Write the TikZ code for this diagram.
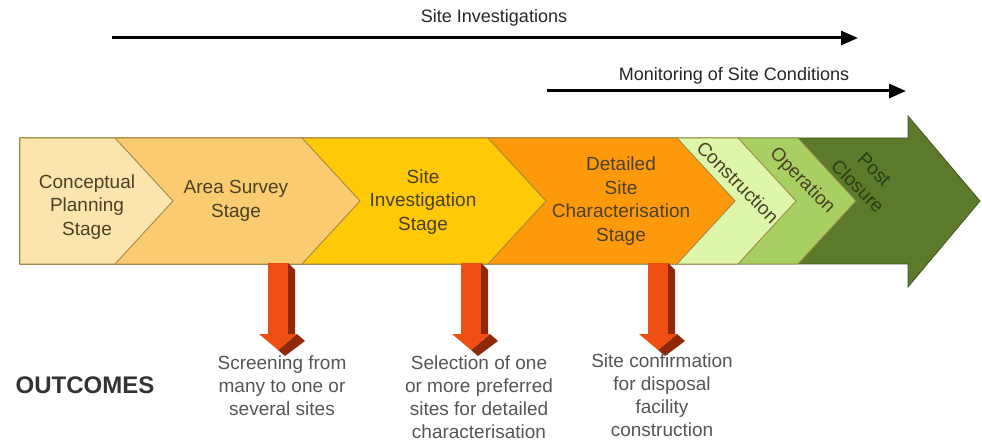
\documentclass[tikz,border=0pt]{standalone}
\usepackage{fontspec}
\setmainfont{Liberation Sans}
\usetikzlibrary{arrows.meta, positioning}

\definecolor{conceptfill}{HTML}{FBE5AC}
\definecolor{areafill}{HTML}{FBCB72}
\definecolor{invfill}{HTML}{FFC908}
\definecolor{detailfill}{HTML}{FF990C}
\definecolor{consfill}{HTML}{DDF6AA}
\definecolor{opfill}{HTML}{A8CF62}
\definecolor{postfill}{HTML}{5B7A2C}
\definecolor{chevline}{HTML}{9A8443}
\definecolor{stagetxt}{HTML}{4A4126}
\definecolor{posttxt}{HTML}{2E3C14}
\definecolor{outtxt}{HTML}{555555}
\definecolor{arrowfront}{HTML}{EE4E12}
\definecolor{arrowside}{HTML}{8E2A0A}

\begin{document}
\begin{tikzpicture}[x=1pt, y=-1pt,
    stagetext/.style={align=center, text=stagetxt, font=\fontsize{19}{23.5}\selectfont},
    outtext/.style={align=center, text=outtxt, anchor=north, inner sep=0pt, font=\fontsize{19}{23}\selectfont},
    toptext/.style={font=\fontsize{18}{20}\selectfont, text=black!85},
    toparrow/.style={line width=3pt, -{Triangle[length=17pt,width=14pt]}}]

    \useasboundingbox (0,0) rectangle (982,446);

    % top arrows
    \node[toptext] (sitelbl) at (494,18) {Site Investigations};
    \coordinate (si-start) at (112,38);
    \coordinate (si-end) at (858,38);
    \draw[toparrow] (si-start) -- (si-end);

    \node[toptext] (monlbl) at (734,76) {Monitoring of Site Conditions};
    \coordinate (mon-start) at (547,91);
    \coordinate (mon-end) at (906,91);
    \draw[toparrow] (mon-start) -- (mon-end);

    % big arrow (post closure)
    \filldraw[fill=postfill, draw=postfill!70!black, line width=0.8pt]
        (20,138) -- (908,138) -- (908,116) -- (980,201) -- (908,287) -- (908,264) -- (20,264) -- cycle;

    % chevrons, right to left
    \foreach \r/\c in {798/opfill, 738/consfill, 677/detailfill, 488/invfill, 302/areafill, 115/conceptfill}
        \filldraw[fill=\c, draw=chevline, line width=0.8pt]
            (20,138) -- (\r,138) -- (\r+58,201) -- (\r,264) -- (20,264) -- cycle;

    % stage labels
    \node[stagetext] (concept) at (87,207) {Conceptual\\Planning\\Stage};
    \node[stagetext] (area) at (236,201) {Area Survey\\Stage};
    \node[stagetext] (siteinv) at (423,202) {Site\\Investigation\\Stage};
    \node[stagetext] (detailed) at (621,201) {Detailed\\Site\\Characterisation\\Stage};
    \node[stagetext, rotate=-45] (constr) at (738,182) {Construction};
    \node[stagetext, rotate=-45] (oper) at (802,181) {Operation};
    \node[stagetext, rotate=-45, text=posttxt] (post) at (866,178) {Post\\Closure};

    % outcome arrows
    \foreach \a in {268,461,648} {
        \fill[arrowside] (\a+20,263) -- (\a+27,270) -- (\a+27,334) -- (\a+20,334) -- cycle; % side
        \fill[arrowfront] (\a,263) rectangle (\a+20,334); % shaft
        \fill[arrowside] (\a+29,334) -- (\a+37,341) -- (\a+17,356) -- (\a+10,350) -- cycle; % head side
        \fill[arrowfront] (\a-9,334) -- (\a+29,334) -- (\a+10,350) -- cycle; % head
    }

    % outcomes
    \node[font=\bfseries\fontsize{24}{26}\selectfont, text=black!80] (outcomes) at (85,385) {OUTCOMES};
    \node[outtext] (screen) at (282,356) {Screening from\\many to one or\\several sites};
    \node[outtext] (select) at (479,356) {Selection of one\\or more preferred\\sites for detailed\\characterisation};
    \node[outtext] (confirm) at (662,354) {Site confirmation\\for disposal\\facility\\construction};
\end{tikzpicture}
\end{document}
